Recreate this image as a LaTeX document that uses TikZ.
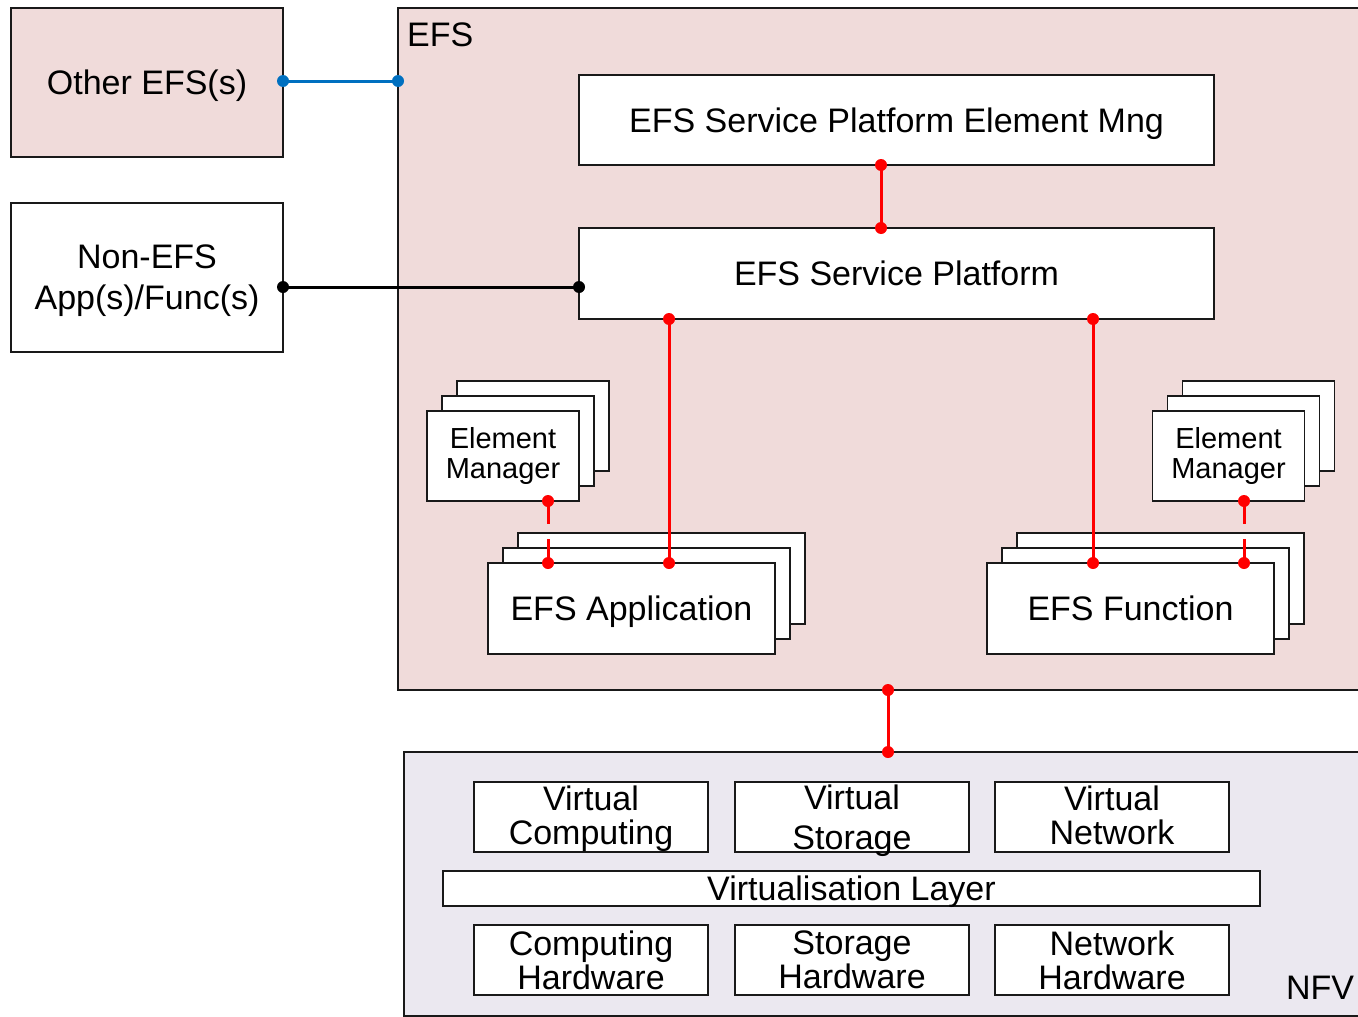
\documentclass[tikz,border=0pt]{standalone}
\usepackage{fontspec}
\setmainfont{Liberation Sans}
\definecolor{efspink}{RGB}{240,219,218}
\definecolor{nfvgray}{RGB}{235,232,240}
\definecolor{linkblue}{RGB}{0,112,192}
\definecolor{boxline}{RGB}{25,25,25}
\begin{document}
\begin{tikzpicture}[x=1pt,y=-1pt,
  box/.style={draw=boxline, line width=1.5pt, fill=white, inner sep=0pt, outer sep=0pt,
    align=center, font=\fontsize{34}{41}\selectfont},
  oneline/.style={text height=25pt, text depth=1pt},
  area/.style={draw=boxline, line width=1.5pt, inner sep=0pt, outer sep=0pt},
  embox/.style={box, minimum width=152pt, minimum height=90pt, font=\fontsize{29}{30}\selectfont},
  stackbox/.style={box, minimum width=287pt, minimum height=91pt},
  nfvbox/.style={box, minimum width=234pt, minimum height=70pt, font=\fontsize{34}{34}\selectfont},
  lbl/.style={inner sep=0pt, font=\fontsize{34}{41}\selectfont},
  rdot/.style={circle, fill=red, draw=none, inner sep=0pt, minimum size=12pt},
  bdot/.style={circle, fill=linkblue, draw=none, inner sep=0pt, minimum size=12pt},
  kdot/.style={circle, fill=black, draw=none, inner sep=0pt, minimum size=12pt},
  redlink/.style={draw=red, line width=3pt},
  reddash/.style={draw=red, line width=3pt, dash pattern=on 23pt off 15pt},
  bluelink/.style={draw=linkblue, line width=3pt},
  blacklink/.style={draw=black, line width=3pt}
]
\useasboundingbox (0,0) rectangle (1358,1017);

% big areas
\node[area, fill=efspink, minimum width=964pt, minimum height=682pt] (efs) at (880,349) {};
\node[lbl, anchor=west] (efslbl) at (407,35) {EFS};
\node[area, fill=nfvgray, minimum width=958pt, minimum height=264pt] (nfv) at (883,884) {};
\node[lbl] (nfvlbl) at (1320,988) {NFV};

% left boxes
\node[box, oneline, fill=efspink, minimum width=272pt, minimum height=149pt] (oth) at (147,82.5) {Other EFS(s)};
\node[box, text depth=1pt, minimum width=272pt, minimum height=149pt] (non) at (147,277.5) {Non-EFS\\App(s)/Func(s)};

% platform boxes
\node[box, oneline, minimum width=635pt, minimum height=90pt] (mng) at (896.5,120) {EFS Service Platform Element Mng};
\node[box, oneline, minimum width=635pt, minimum height=91pt] (sp) at (896.5,273.5) {EFS Service Platform};

% element manager stacks
\node[embox] (emL3) at (533,426) {};
\node[embox] (emL2) at (518,441) {};
\node[embox] (emL) at (503,456) {Element\\Manager};
\node[embox] (emR3) at (1258.5,426) {};
\node[embox] (emR2) at (1243.5,441) {};
\node[embox] (emR) at (1228.5,456) {Element\\Manager};

% application / function stacks
\node[stackbox] (app3) at (661.5,578.5) {};
\node[stackbox] (app2) at (646.5,593.5) {};
\node[stackbox, oneline] (app) at (631.5,608.5) {EFS Application};
\node[stackbox] (fun3) at (1160.5,578.5) {};
\node[stackbox] (fun2) at (1145.5,593.5) {};
\node[stackbox, oneline] (fun) at (1130.5,608.5) {EFS Function};

% NFV content
\node[nfvbox, text depth=3.5pt] (vc) at (591,817) {Virtual\\Computing};
\node[nfvbox, text depth=-1pt, font=\fontsize{34}{40}\selectfont] (vs) at (852,817) {Virtual\\Storage};
\node[nfvbox, text depth=3.5pt] (vn) at (1112,817) {Virtual\\Network};
\node[box, oneline, minimum width=817pt, minimum height=35pt, font=\fontsize{34}{34}\selectfont] (vl) at (851.5,888.5) {Virtualisation Layer};
\node[nfvbox] (ch) at (591,960) {Computing\\Hardware};
\node[nfvbox] (sh) at (852,960) {Storage\\Hardware};
\node[nfvbox] (nh) at (1112,960) {Network\\Hardware};

% connectors
\draw[bluelink] ([yshift=1.5pt]oth.east) node[bdot]{} -- ([yshift=1.5pt]oth.east -| efs.west) node[bdot]{};
\draw[blacklink] ([yshift=-9.5pt]non.east) node[kdot]{} -- ([yshift=-9.5pt]non.east -| sp.west) node[kdot]{};
\draw[redlink] ([xshift=-15.5pt]mng.south) node[rdot]{} -- ([xshift=-15.5pt]sp.north) node[rdot]{};
\draw[redlink] ([xshift=-227.5pt]sp.south) node[rdot]{} -- ([xshift=37.5pt]app.north) node[rdot]{};
\draw[redlink] ([xshift=196.5pt]sp.south) node[rdot]{} -- ([xshift=-37.5pt]fun.north) node[rdot]{};
\draw[reddash] ([xshift=45pt]emL.south) node[rdot]{} -- ([xshift=-83.5pt]app.north) node[rdot]{};
\draw[reddash] ([xshift=15.5pt]emR.south) node[rdot]{} -- ([xshift=113.5pt]fun.north) node[rdot]{};
\draw[redlink] ([xshift=8pt]efs.south) node[rdot]{} -- ([xshift=5pt]nfv.north) node[rdot]{};
\end{tikzpicture}
\end{document}
